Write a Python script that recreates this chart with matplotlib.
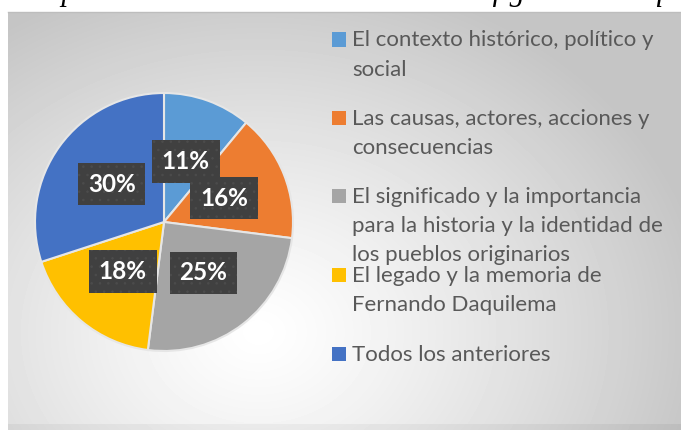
import numpy as np
import matplotlib.pyplot as plt
from matplotlib.patches import Rectangle

categories = [
    "El contexto histórico, político y\nsocial",
    "Las causas, actores, acciones y\nconsecuencias",
    "El significado y la importancia\npara la historia y la identidad de\nlos pueblos originarios",
    "El legado y la memoria de\nFernando Daquilema",
    "Todos los anteriores",
]
values = [11, 16, 25, 18, 30]
colors = ["#5B9BD5", "#ED7D31", "#A5A5A5", "#FFC000", "#4472C4"]

W, H = 681, 430
fig = plt.figure(figsize=(W / 100, H / 100), dpi=100)
fig.patch.set_facecolor("white")

# gray gradient background of the chart area
bg = fig.add_axes([8 / W, 0, 1 - 8 / W, (H - 12) / H])
yy, xx = np.mgrid[0:418, 0:673]
d = np.sqrt(((xx - 250) / 520) ** 2 + ((yy - 320) / 420) ** 2)
shade = np.clip(1.0 - 0.27 * d ** 1.2, 0.77, 1.0)
shade[-6:, :] -= 0.04
bg.imshow(shade, cmap="gray", vmin=0, vmax=1, aspect="auto",
          extent=[0, 1, 0, 1], origin="upper")
bg.axis("off")
fig.add_artist(plt.Line2D([8 / W, 1], [(H - 12) / H] * 2, color="#bdbdbd", lw=1))

# caption of the page, cut off by the top edge as in the original
fig.text(32 / W, (H - 7) / H, "Aspectos más relevantes acerca de la figura de Daquilema",
         family="Liberation Serif", style="italic", fontsize=22, va="bottom",
         ha="left", color="black")

# pie
cx, cy, r = 164, 222, 129
ax = fig.add_axes([(cx - r) / W, (H - cy - r) / H, 2 * r / W, 2 * r / H])
plt.rcParams["hatch.color"] = "#555555"
plt.rcParams["hatch.linewidth"] = 0.6
wedges, texts, autotexts = ax.pie(
    values, colors=colors, startangle=90, counterclock=False, radius=1,
    autopct="%1.0f%%", pctdistance=0.5,
    wedgeprops=dict(edgecolor="#e6e6e6", linewidth=1.5),
    textprops=dict(color="white", fontsize=17.5, fontweight="bold", family="Lato"),
)
for t in autotexts:
    t.set_bbox(dict(boxstyle="square,pad=0.4", facecolor="#404040",
                    edgecolor="#4c4c4c", linewidth=0, hatch=".."))
ax.set_xlim(-1, 1)
ax.set_ylim(-1, 1)
ax.axis("off")

# legend, placed by hand like the original
baselines = [46.5, 125, 203, 282, 361]
pitch = 29
for label, col, y in zip(categories, colors, baselines):
    fig.add_artist(Rectangle((332 / W, (H - y) / H), 14 / W, 14 / H,
                             facecolor=col, edgecolor="none"))
    for i, line in enumerate(label.split("\n")):
        fig.text(352 / W, (H - y - i * pitch) / H, line, family="Lato",
                 fontsize=16, color="#595959", va="baseline", ha="left")

fig.savefig("out.png", dpi=100)
